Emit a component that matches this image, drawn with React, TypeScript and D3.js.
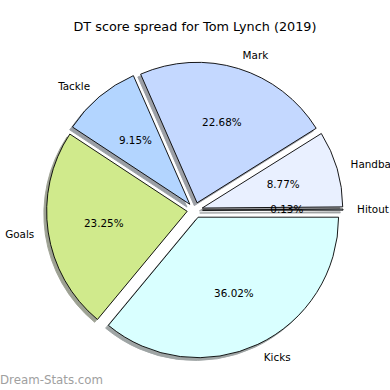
import React from 'react';
import * as d3 from 'd3';

// DT score spread, in percent, matplotlib order (counter-clockwise from 3 o'clock)
const categories = ['Hitout', 'Handball', 'Mark', 'Tackle', 'Goals', 'Kicks'];
const shares = [0.13, 8.77, 22.68, 9.15, 23.25, 36.02];
const colors = ['#e6f2ff', '#e9f0ff', '#c4d8ff', '#b3d5ff', '#d0ea8c', '#d9ffff'];
const title = 'DT score spread for Tom Lynch (2019)';

const W = 390;
const H = 390;
const cx = 194.8;
const cy = 210.2;
const R = 140.5;
const explode = 0.055;
const font = '"DejaVu Sans", sans-serif';

function shade(c: string) {
	const col = d3.rgb(c);
	return d3.rgb(col.r * 0.3, col.g * 0.3, col.b * 0.3).toString();
}

export default function App() {
	// counter-clockwise from 3 o'clock, like matplotlib's default
	const pie = d3.pie<number>().sort(null).startAngle(Math.PI / 2).endAngle(Math.PI / 2 - 2 * Math.PI);
	const arcs = pie(shares);
	const arc = d3.arc<d3.PieArcDatum<number>>().innerRadius(0).outerRadius(R);
	const sh = 0.02 * R;

	const slices = arcs.map((a, i) => {
		const m = (a.startAngle + a.endAngle) / 2;
		const ux = Math.sin(m);
		const uy = -Math.cos(m);
		const ox = cx + explode * R * ux;
		const oy = cy + explode * R * uy;
		return { a, i, ux, uy, ox, oy };
	});

	return (
		<svg width={W} height={H} style={{ position: 'absolute', left: 0, top: 0, background: '#fff' }}>
			<text x={W / 2} y={30.5} textAnchor="middle" fontFamily={font} fontSize={12.8} fill="#000">{title}</text>
			{/* shadows sit under every wedge */}
			{slices.map(s => (
				<path key={'sh' + s.i} d={arc(s.a) || ''} transform={`translate(${s.ox - sh},${s.oy + sh})`}
					fill={shade(colors[s.i])} stroke={shade(colors[s.i])} strokeWidth={0.9} opacity={0.5} />
			))}
			{slices.map(s => (
				<path key={'w' + s.i} d={arc(s.a) || ''} transform={`translate(${s.ox},${s.oy})`}
					fill={colors[s.i]} stroke="#000" strokeWidth={0.9} strokeLinejoin="round" />
			))}
			{slices.map(s => {
				const lx = s.ox + 1.1 * R * s.ux;
				const ly = s.oy + 1.1 * R * s.uy;
				return (
					<text key={'l' + s.i} x={lx} y={ly} dy="0.35em" textAnchor={lx > cx ? 'start' : 'end'}
						fontFamily={font} fontSize={10.4} fill="#000">{categories[s.i]}</text>
				);
			})}
			{slices.map(s => (
				<text key={'p' + s.i} x={s.ox + 0.6 * R * s.ux} y={s.oy + 0.6 * R * s.uy} dy="0.35em" textAnchor="middle"
					fontFamily={font} fontSize={10.4} fill="#000">{shares[s.i].toFixed(2) + '%'}</text>
			))}
			<text x={0} y={384} fontFamily={font} fontSize={11.8} fill="#a0a0a0">Dream-Stats.com</text>
		</svg>
	);
}
